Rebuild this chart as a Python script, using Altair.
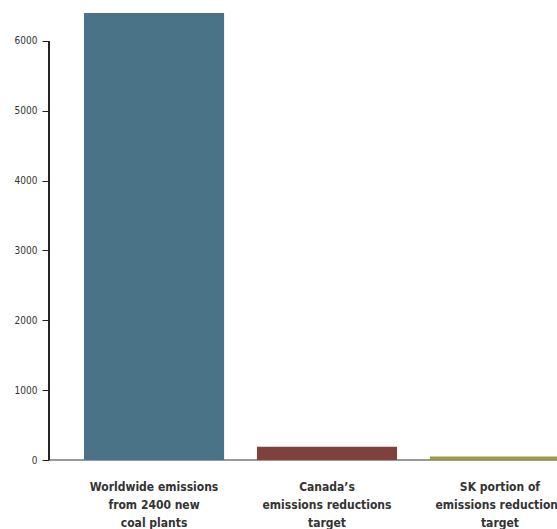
import altair as alt
import pandas as pd

# Emissions comparison (Mt CO2 per year)
categories = [
    "Worldwide emissions|from 2400 new|coal plants",
    "Canada\u2019s|emissions reductions|target",
    "SK portion of|emissions reductions|target",
]
values = [6400, 190, 50]
bar_colors = ["#4b7387", "#80403b", "#9d9b3f"]
y_ticks = [0, 1000, 2000, 3000, 4000, 5000, 6000]

df = pd.DataFrame({"category": categories, "value": values})

FONT = "'DejaVu Sans Condensed', Roboto, sans-serif"
y_scale = alt.Scale(domain=[0, 6587], nice=False, zero=False)
x_scale = alt.Scale(domain=categories, range=[35, 521], paddingInner=0.19, paddingOuter=0)

y_axis = alt.Axis(
    values=y_ticks,
    format="d",
    grid=False,
    domain=False,
    tickSize=7,
    tickColor="#222222",
    labelFont=FONT,
    labelFontSize=10,
    labelColor="#333333",
    labelPadding=5,
    title=None,
)

baseline = alt.Chart(df).mark_rule(color="#999999", strokeWidth=2).encode(
    y=alt.Y(datum=0, scale=y_scale, axis=y_axis, title=None),
)

bars = alt.Chart(df).mark_bar().encode(
    x=alt.X(
        "category:N",
        scale=x_scale,
        sort=categories,
        title=None,
        axis=alt.Axis(
            labelExpr="split(datum.value, '|')",
            labelAngle=0,
            labelFont=FONT,
            labelFontWeight="bold",
            labelFontSize=12,
            labelLineHeight=18,
            labelColor="#333333",
            labelPadding=21,
            labelLimit=0,
            labelOverlap=False,
            labelBound=False,
            ticks=False,
            domain=False,
        ),
    ),
    y=alt.Y("value:Q", scale=y_scale, axis=y_axis, title=None),
    color=alt.Color("category:N", scale=alt.Scale(domain=categories, range=bar_colors), legend=None),
)

# vertical axis line running from 0 up to the 6000 tick
axis_line = alt.Chart(df).mark_rule(color="#222222", strokeWidth=1.5).encode(
    x=alt.value(0),
    y=alt.Y(datum=0, scale=y_scale, axis=y_axis, title=None),
    y2=alt.datum(6000),
)

chart = (
    alt.layer(baseline, bars, axis_line)
    .properties(
        width=508,
        height=460,
        padding={"left": 49, "top": 0, "right": 0, "bottom": 69},
        autosize=alt.AutoSizeParams(type="none"),
        background="white",
    )
    .configure_view(stroke=None)
)

chart.save("out.html", embed_options={"renderer": "svg", "actions": False})
